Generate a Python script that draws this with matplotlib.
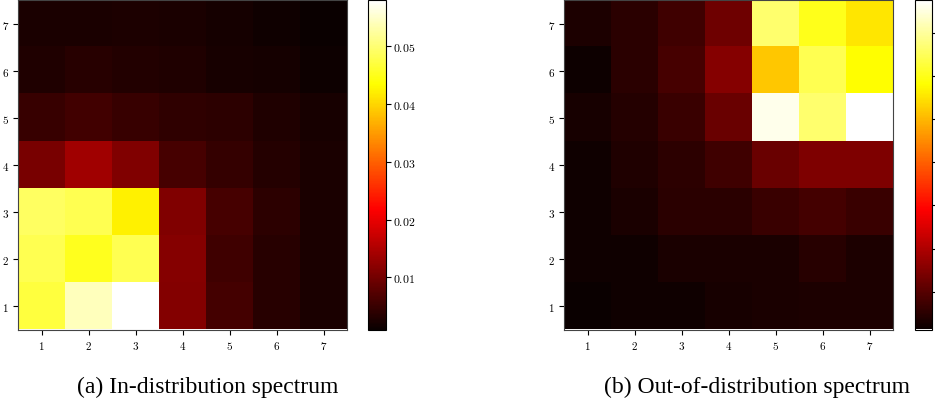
import numpy as np
import matplotlib
matplotlib.use("Agg")
import matplotlib.pyplot as plt

plt.rcParams['mathtext.fontset'] = 'cm'

W, H = 935, 402

labels = [1, 2, 3, 4, 5, 6, 7]

# rows: y = 1 (bottom) ... 7 (top); columns x = 1 ... 7
in_dist = [
    [0.0470, 0.0540, 0.0580, 0.0113, 0.0059, 0.0035, 0.0025],
    [0.0480, 0.0452, 0.0480, 0.0115, 0.0055, 0.0035, 0.0025],
    [0.0490, 0.0480, 0.0423, 0.0112, 0.0063, 0.0039, 0.0025],
    [0.0104, 0.0137, 0.0112, 0.0063, 0.0047, 0.0033, 0.0024],
    [0.0050, 0.0058, 0.0050, 0.0043, 0.0040, 0.0030, 0.0022],
    [0.0030, 0.0035, 0.0032, 0.0030, 0.0022, 0.0019, 0.0014],
    [0.0025, 0.0025, 0.0026, 0.0025, 0.0019, 0.0015, 0.0010],
]

out_dist = [
    [0.0012, 0.0020, 0.0020, 0.0027, 0.0030, 0.0034, 0.0034],
    [0.0020, 0.0019, 0.0030, 0.0032, 0.0032, 0.0045, 0.0034],
    [0.0020, 0.0032, 0.0050, 0.0050, 0.0067, 0.0080, 0.0067],
    [0.0020, 0.0036, 0.0052, 0.0072, 0.0121, 0.0144, 0.0144],
    [0.0028, 0.0043, 0.0067, 0.0121, 0.0762, 0.0666, 0.0777],
    [0.0015, 0.0050, 0.0083, 0.0154, 0.0518, 0.0643, 0.0582],
    [0.0034, 0.0050, 0.0072, 0.0127, 0.0666, 0.0601, 0.0554],
]

cbar_ticks_a = [0.01, 0.02, 0.03, 0.04, 0.05]
cbar_ticks_b = [0.01, 0.02, 0.03, 0.04, 0.05, 0.06, 0.07]
# labels of the right colour bar fall outside the cropped picture
show_cbar_labels = [True, False]

captions = ["(a) In-distribution spectrum", "(b) Out-of-distribution spectrum"]

fig = plt.figure(figsize=(W / 100, H / 100), dpi=100)


def px_rect(x0, x1, ytop, ybot):
    return [x0 / W, 1 - ybot / H, (x1 - x0) / W, (ybot - ytop) / H]


panels = [
    (in_dist, cbar_ticks_a, (18, 347), (368.3, 385.7), 208),
    (out_dist, cbar_ticks_b, (564, 893), (915, 932.3), 757),
]

for (data, cticks, (ax0, ax1), (cx0, cx1), capx), cap, showlab in zip(
        panels, captions, show_cbar_labels):
    arr = np.array(data)
    ax = fig.add_axes(px_rect(ax0, ax1, 1, 330.5))
    im = ax.imshow(arr, cmap='hot', origin='lower', aspect='auto',
                   extent=(0.5, 7.5, 0.5, 7.5), interpolation='nearest')
    ax.set_xticks(labels)
    ax.set_yticks(labels)
    ax.set_xticklabels([f'${v}$' for v in labels], fontsize=8)
    ax.set_yticklabels([f'${v}$' for v in labels], fontsize=8)
    ax.tick_params(length=3.5, width=0.8, pad=3)
    for s in ax.spines.values():
        s.set_color('#444444')
    cax = fig.add_axes(px_rect(cx0, cx1, 1, 330.5))
    cb = fig.colorbar(im, cax=cax)
    cb.set_ticks(cticks)
    if showlab:
        cb.set_ticklabels([f'${v:.2f}$' for v in cticks])
    else:
        cb.set_ticklabels([''] * len(cticks))
    cb.ax.tick_params(labelsize=8.5, length=3.5, width=0.8, pad=2)
    cb.outline.set_linewidth(0.8)
    fig.text(capx / W, 1 - 387 / H, cap, ha='center', va='center',
             fontsize=17, family='Liberation Serif')

fig.savefig('out.png', dpi=100)
